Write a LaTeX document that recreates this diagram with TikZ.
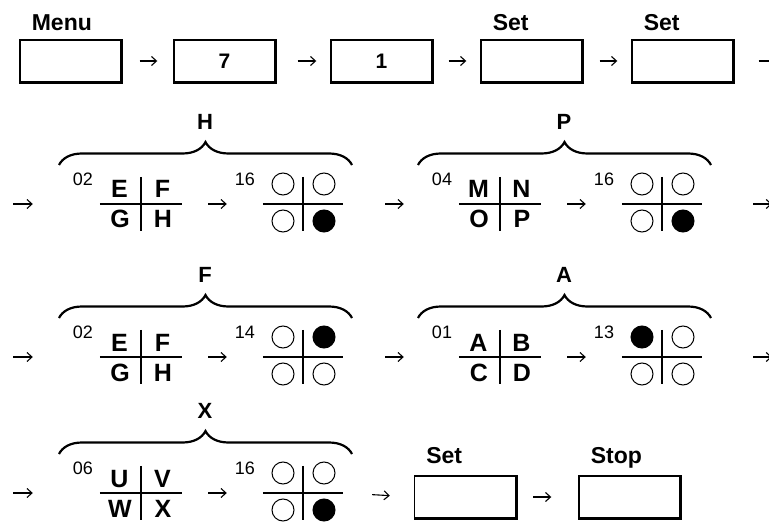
\documentclass[tikz,border=0pt]{standalone}
\usepackage{fontspec}
\setmainfont{Liberation Sans}
\usetikzlibrary{arrows.meta,decorations.pathreplacing}

\tikzset{
  keybox/.style={draw, line width=1.4pt, minimum width=101pt, minimum height=42pt,
    inner sep=0pt, font=\fontsize{21}{25}\selectfont\bfseries},
  keylabel/.style={anchor=base west, font=\fontsize{23}{27}\selectfont\bfseries},
  stepar/.style={-{Straight Barb[length=5pt,width=9pt]}, line width=1.1pt},
  gap/.style 2 args={shorten <=#1pt, shorten >=#2pt},
  crossbox/.style={minimum width=82pt, minimum height=54pt, inner sep=0pt},
  quadletter/.style={anchor=base, inner sep=0pt, font=\fontsize{25}{30}\selectfont\bfseries},
  smallnum/.style={font=\fontsize{18}{22}\selectfont},
  bracelabel/.style={font=\fontsize{22}{26}\selectfont\bfseries},
  cbrace/.style={decorate, decoration={brace, amplitude=23pt}, line width=2.2pt},
}
\newcommand\keyshadow[1]{\draw[line width=3pt] (#1.north east) -- (#1.south east) -- (#1.south west);}

\begin{document}
\begin{tikzpicture}[x=1pt,y=-1pt]
  \useasboundingbox (0,0) rectangle (769,524);
  \clip (0,0) rectangle (769,524);

  % key sequence, first line
  \foreach \kx/\kname/\ktext/\klabel in {70.5/menu//Menu, 224.5/kseven/7/, 381.5/kone/1/,
      531.5/kseta//Set, 682.5/ksetb//Set} {
    \node[keybox] (\kname) at (\kx,61) {\ktext};
    \keyshadow{\kname}
    \node[keylabel] at ([xshift=9pt,yshift=9pt]\kname.north west) {\klabel};
  }
  \coordinate (out1) at (777,61);
  \draw[stepar,gap={18}{16}] (menu.east) -- (kseven.west);
  \draw[stepar,gap={22}{14}] (kseven.east) -- (kone.west);
  \draw[stepar,gap={16}{14}] (kone.east) -- (kseta.west);
  \draw[stepar,gap={17}{14}] (kseta.east) -- (ksetb.west);
  \draw[stepar,gap={25}{0}] (ksetb.east) -- (out1);

  % letter groups with their lamp patterns
  \foreach \gx/\cy/\blab/\na/\qa/\qb/\qc/\qd/\nb/\fillat/\g in {
      0/204/H/02/E/F/G/H/16/4/1, 359/204/P/04/M/N/O/P/16/4/2,
      0/357/F/02/E/F/G/H/14/2/3, 359/357/A/01/A/B/C/D/13/1/4,
      0/493/X/06/U/V/W/X/16/4/5} {
    \node[crossbox] (q\g) at (\gx+141,\cy) {};
    \draw[line width=1.5pt] (q\g.west) -- (q\g.east) (q\g.north) -- (q\g.south);
    \node[quadletter] at (\gx+119.5,\cy-6) {\qa};
    \node[quadletter] at (\gx+162.5,\cy-6) {\qb};
    \node[quadletter] at (\gx+120,\cy+24) {\qc};
    \node[quadletter] at (\gx+163,\cy+24) {\qd};
    \node[smallnum] (na\g) at (\gx+83,\cy-25) {\na};
    \node[crossbox,minimum width=80pt] (d\g) at (\gx+303,\cy) {};
    \draw[line width=1.5pt] (d\g.west) -- (d\g.east) (d\g.north) -- (d\g.south);
    \foreach \i/\dx/\dy in {1/-20/-20, 2/21/-20, 3/-20/17, 4/21/17} {
      \ifnum\i=\fillat\relax \def\dotcol{black}\else \def\dotcol{white}\fi
      \draw[line width=1pt,fill=\dotcol] (\gx+303+\dx,\cy+\dy) circle (11pt);
    }
    \node[smallnum] (nb\g) at (\gx+245,\cy-25) {\nb};
    \draw[cbrace] (\gx+59,\cy-39) -- (\gx+352,\cy-39);
    \node[bracelabel] (bl\g) at (\gx+205,\cy-82) {\blab};
    \draw[stepar,gap={26}{36}] (q\g.east) -- (d\g.west);
  }

  % line starts and ends
  \foreach \r/\cy/\qfirst in {2/204/1, 3/357/3, 4/493/5} {
    \coordinate (in\r) at (13,\cy);
    \draw[stepar,gap={0}{67}] (in\r) -- (q\qfirst.west);
  }
  \coordinate (out2) at (772,204);
  \coordinate (out3) at (772,357);
  \draw[stepar,gap={42}{55}] (d1.east) -- (q2.west);
  \draw[stepar,gap={51}{0}] (d2.east) -- (out2);
  \draw[stepar,gap={42}{55}] (d3.east) -- (q4.west);
  \draw[stepar,gap={51}{0}] (d4.east) -- (out3);

  % closing keys
  \node[keybox] (ksetc) at (465,497) {};
  \keyshadow{ksetc}
  \node[keylabel] at ([xshift=9pt,yshift=12pt]ksetc.north west) {Set};
  \node[keybox] (kstop) at (629.5,497) {};
  \keyshadow{kstop}
  \node[keylabel] at ([xshift=9pt,yshift=12pt]kstop.north west) {Stop};
  \draw[stepar,gap={29}{24}] (d5.east) -- (ksetc.west);
  \draw[stepar,gap={17}{27}] (ksetc.east) -- (kstop.west);
\end{tikzpicture}
\end{document}
